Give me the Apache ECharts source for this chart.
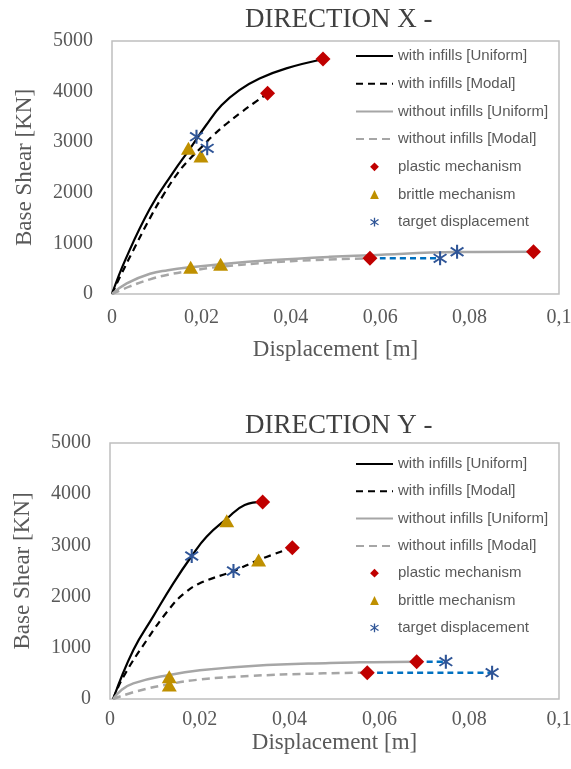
<!DOCTYPE html>
<html>
<head>
<meta charset="utf-8">
<script src="https://cdn.jsdelivr.net/npm/echarts@6/dist/echarts.min.js"></script>
<style>
  html, body { margin: 0; padding: 0; background: #fff; }
  #chart { width: 571px; height: 769px; }
</style>
</head>
<body>
<div id="chart"></div>
<script>
// direction X curves [displacement m, base shear kN]
const xWithUniform = [[0, 0], [0.003, 680], [0.0085, 1690], [0.0135, 2380], [0.0175, 2880], [0.021, 3330], [0.0245, 3730], [0.0285, 4030], [0.033, 4260], [0.039, 4460], [0.0472, 4640]];
const xWithModal = [[0, 0], [0.0018, 342], [0.0048, 870], [0.0085, 1500], [0.0115, 1960], [0.0148, 2400], [0.0175, 2680], [0.0199, 2890], [0.0227, 3140], [0.0257, 3370], [0.0286, 3570], [0.0316, 3765], [0.0348, 3966]];
const xNoUniform = [[0, 0], [0.0033, 211], [0.0085, 400], [0.0125, 470], [0.0176, 530], [0.0243, 590], [0.035, 665], [0.0488, 735], [0.0577, 765], [0.0772, 828], [0.0943, 835]];
const xNoModal = [[0, 0], [0.004, 150], [0.0085, 290], [0.0125, 380], [0.0176, 460], [0.0243, 540], [0.035, 620], [0.045, 670], [0.0577, 705]];
const xExtension = [[0.0577, 705], [0.0734, 705]];
const xPlastic = [[0.0472, 4644], [0.0348, 3966], [0.0577, 705], [0.0943, 835]];
const xBrittle = [[0.0171, 2879], [0.0199, 2727], [0.0176, 527], [0.0243, 587]];
const xTarget = [[0.0189, 3109], [0.0213, 2879], [0.0734, 705], [0.0772, 836]];

// direction Y curves
const yWithUniform = [[0.0007, 0], [0.0052, 957], [0.0096, 1608], [0.0141, 2259], [0.0182, 2793], [0.0215, 3170], [0.026, 3520], [0.03, 3790], [0.034, 3850]];
const yWithModal = [[0.0007, 0], [0.003, 436], [0.0082, 1152], [0.0134, 1780], [0.0165, 2060], [0.02, 2259], [0.0275, 2500], [0.0331, 2715], [0.0406, 2955]];
const yNoUniform = [[0.0007, 0], [0.0025, 170], [0.0052, 306], [0.0132, 470], [0.02, 560], [0.0349, 664], [0.049, 705], [0.0557, 716], [0.0683, 729]];
const yNoModal = [[0.0007, 0], [0.0059, 150], [0.0132, 290], [0.02, 380], [0.0312, 450], [0.045, 495], [0.0573, 514]];
const yExtensionA = [[0.0683, 729], [0.0748, 729]];
const yExtensionB = [[0.0573, 514], [0.0851, 514]];
const yPlastic = [[0.034, 3848], [0.0406, 2955], [0.0683, 729], [0.0573, 514]];
const yBrittle = [[0.026, 3483], [0.0331, 2715], [0.0132, 436], [0.0132, 273]];
const yTarget = [[0.0182, 2793], [0.0275, 2500], [0.0748, 729], [0.0851, 514]];

const titles = ['DIRECTION X -', 'DIRECTION Y -'];
const lineNames = ['with infills [Uniform]', 'with infills [Modal]', 'without infills [Uniform]', 'without infills [Modal]'];
const markNames = ['plastic mechanism', 'brittle mechanism', 'target displacement'];

const serif = 'Liberation Serif, Times New Roman, serif';
const textGray = '#595959';
const markColors = ['#c00000', '#bf9000', '#2f5597'];
// asterisk: vertical bar plus two diagonals
const starPath = 'path://M8.7,0 L11.3,0 L11.3,20 L8.7,20 Z M2.78,2.96 L18.78,14.96 L17.22,17.04 L1.22,5.04 Z M1.22,14.96 L17.22,2.96 L18.78,5.04 L2.78,17.04 Z';

const chart = echarts.init(document.getElementById('chart'));

function curve(name, data, g, color, type, width) {
  return {
    name, type: 'line', xAxisIndex: g, yAxisIndex: g, data,
    smooth: 0.45, symbol: 'none',
    lineStyle: { color, type, width }, itemStyle: { color }, z: 2
  };
}
// markers drawn as line series with an invisible line, so the legend keeps a small icon
function marks(name, data, g, symbol, size, color) {
  return {
    name, type: 'line', xAxisIndex: g, yAxisIndex: g, data,
    symbol, symbolSize: size, showSymbol: true,
    lineStyle: { color, width: 0 }, itemStyle: { color, borderWidth: 0 }, z: 5
  };
}

const grids = [
  { left: 112, right: 12, top: 41, height: 253 },
  { left: 110, right: 12, top: 443, height: 256 }
];

const legendData = lineNames.map(n => ({ name: n, itemStyle: { color: 'rgba(0,0,0,0)', borderWidth: 0 } }))
  .concat(markNames.map((n, i) => ({ name: n, itemStyle: { color: markColors[i], borderWidth: 0 } })));

const option = {
  animation: false,
  backgroundColor: '#fff',
  title: [
    { text: titles[0], left: 240, top: 1, textStyle: { fontFamily: serif, fontSize: 27, fontWeight: 'normal', color: '#404040' } },
    { text: titles[1], left: 240, top: 407, textStyle: { fontFamily: serif, fontSize: 27, fontWeight: 'normal', color: '#404040' } }
  ],
  legend: [
    { top: 43, itemGap: 11.7 },
    { top: 451, itemGap: 11.3 }
  ].map(l => ({
    orient: 'vertical', left: 350, top: l.top, itemGap: l.itemGap,
    itemWidth: 37, itemHeight: 11, selectedMode: false, data: legendData,
    textStyle: { fontFamily: 'Liberation Sans, Arial, sans-serif', fontSize: 15, color: textGray, lineHeight: 16 }
  })),
  grid: grids.map(g => Object.assign({ show: true, borderColor: '#bfbfbf', borderWidth: 1.5, containLabel: false, outerBoundsMode: 'none' }, g)),
  xAxis: [44, 32].map((gap, i) => ({
    type: 'value', gridIndex: i, min: 0, max: 0.1, interval: 0.02,
    name: 'Displacement [m]', nameLocation: 'middle', nameGap: gap, nameMoveOverlap: false,
    nameTextStyle: { fontFamily: serif, fontSize: 23, color: textGray },
    axisLine: { show: false }, axisTick: { show: false }, splitLine: { show: false },
    axisLabel: {
      margin: i === 0 ? 14 : 11, fontFamily: serif, fontSize: 20, color: textGray,
      formatter: v => String(Number(v.toFixed(2))).replace('.', ',')
    }
  })),
  yAxis: [0, 1].map(i => ({
    type: 'value', gridIndex: i, min: 0, max: 5000, interval: 1000,
    name: 'Base Shear [KN]', nameLocation: 'middle', nameGap: 76, nameMoveOverlap: false,
    nameTextStyle: { fontFamily: serif, fontSize: 23, color: textGray },
    axisLine: { show: false }, axisTick: { show: false }, splitLine: { show: false },
    axisLabel: { margin: 19, fontFamily: serif, fontSize: 20, color: textGray, formatter: v => String(v) }
  })),
  series: [
    curve(lineNames[0], xWithUniform, 0, '#000', 'solid', 2.2),
    curve(lineNames[1], xWithModal, 0, '#000', [7, 5], 2.2),
    curve(lineNames[2], xNoUniform, 0, '#a6a6a6', 'solid', 2.5),
    curve(lineNames[3], xNoModal, 0, '#a6a6a6', [8, 5], 2.5),
    curve('extension X', xExtension, 0, '#0070c0', [6, 4], 2.5),
    curve(lineNames[0], yWithUniform, 1, '#000', 'solid', 2.2),
    curve(lineNames[1], yWithModal, 1, '#000', [7, 5], 2.2),
    curve(lineNames[2], yNoUniform, 1, '#a6a6a6', 'solid', 2.5),
    curve(lineNames[3], yNoModal, 1, '#a6a6a6', [8, 5], 2.5),
    curve('extension Y1', yExtensionA, 1, '#0070c0', [6, 4], 2.5),
    curve('extension Y2', yExtensionB, 1, '#0070c0', [6, 4], 2.5),
    marks(markNames[0], xPlastic, 0, 'diamond', 15, markColors[0]),
    marks(markNames[1], xBrittle, 0, 'triangle', [15, 13], markColors[1]),
    marks(markNames[2], xTarget, 0, starPath, 14, markColors[2]),
    marks(markNames[0], yPlastic, 1, 'diamond', 15, markColors[0]),
    marks(markNames[1], yBrittle, 1, 'triangle', [15, 13], markColors[1]),
    marks(markNames[2], yTarget, 1, starPath, 14, markColors[2])
  ]
};

chart.setOption(option);
</script>
</body>
</html>
